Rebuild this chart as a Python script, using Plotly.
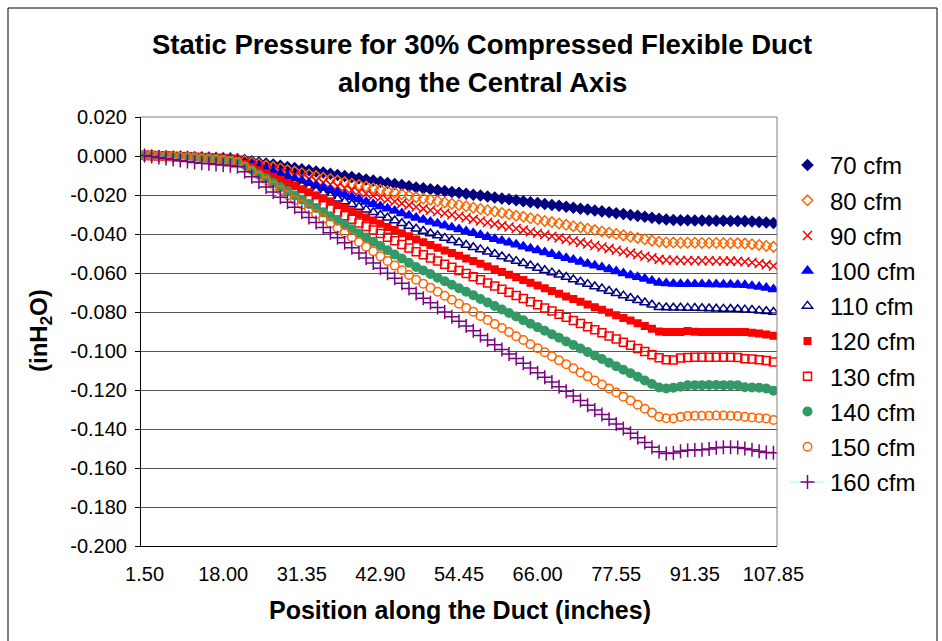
import plotly.graph_objects as go

# Positions along the duct (inches) - category axis
positions = [1.50, 3.00, 4.50, 6.00, 7.50, 9.00, 10.50, 12.00, 13.50, 15.00, 16.50, 18.00, 19.50, 21.00, 22.50, 24.00,
             25.05, 26.10, 27.15, 28.20, 29.25, 30.30, 31.35, 32.40, 33.45, 34.50, 35.55, 36.60, 37.65, 38.70, 39.75,
             40.80, 41.85, 42.90, 43.95, 45.00, 46.05, 47.10, 48.15, 49.20, 50.25, 51.30, 52.35, 53.40, 54.45, 55.50,
             56.55, 57.60, 58.65, 59.70, 60.75, 61.80, 62.85, 63.90, 64.95, 66.00, 67.05, 68.10, 69.15, 70.20, 71.25,
             72.30, 73.35, 74.40, 75.45, 76.50, 77.55, 78.60, 79.65, 80.70, 81.75, 82.80, 83.85,
             85.35, 86.85, 88.35, 89.85, 91.35, 92.85, 94.35, 95.85, 97.35, 98.85, 100.35, 101.85, 103.35, 104.85,
             106.35, 107.85]

x_tick_labels = ["1.50", "18.00", "31.35", "42.90", "54.45", "66.00", "77.55", "91.35", "107.85"]
y_tick_values = [0.02, 0.0, -0.02, -0.04, -0.06, -0.08, -0.10, -0.12, -0.14, -0.16, -0.18, -0.20]
y_tick_labels = ["0.020", "0.000", "-0.020", "-0.040", "-0.060", "-0.080", "-0.100", "-0.120",
                 "-0.140", "-0.160", "-0.180", "-0.200"]

cfm_70 = [0.0002, 0.0001, 0.0000, -0.0001, -0.0002, -0.0003, -0.0004, -0.0005, -0.0006, -0.0008, -0.0009, -0.0010,
          -0.0012, -0.0015, -0.0021, -0.0027, -0.0033, -0.0038, -0.0044, -0.0050, -0.0056, -0.0062, -0.0068, -0.0073,
          -0.0079, -0.0085, -0.0091, -0.0097, -0.0103, -0.0108, -0.0114, -0.0120, -0.0126, -0.0132, -0.0138, -0.0143,
          -0.0149, -0.0155, -0.0161, -0.0166, -0.0170, -0.0175, -0.0180, -0.0185, -0.0189, -0.0194, -0.0199, -0.0203,
          -0.0208, -0.0213, -0.0218, -0.0222, -0.0227, -0.0232, -0.0237, -0.0241, -0.0246, -0.0251, -0.0255, -0.0260,
          -0.0265, -0.0270, -0.0274, -0.0279, -0.0284, -0.0289, -0.0293, -0.0298, -0.0303, -0.0307, -0.0312, -0.0317,
          -0.0322, -0.0326, -0.0328, -0.0330, -0.0330, -0.0331, -0.0331, -0.0332, -0.0332, -0.0332, -0.0333, -0.0333,
          -0.0334, -0.0336, -0.0339, -0.0341, -0.0344]
cfm_80 = [0.0003, 0.0002, 0.0001, 0.0000, -0.0002, -0.0003, -0.0004, -0.0006, -0.0007, -0.0009, -0.0010, -0.0012,
          -0.0015, -0.0018, -0.0026, -0.0033, -0.0041, -0.0049, -0.0057, -0.0064, -0.0072, -0.0080, -0.0088, -0.0095,
          -0.0103, -0.0111, -0.0118, -0.0126, -0.0134, -0.0142, -0.0149, -0.0157, -0.0165, -0.0173, -0.0180, -0.0188,
          -0.0196, -0.0204, -0.0211, -0.0218, -0.0224, -0.0231, -0.0238, -0.0245, -0.0251, -0.0258, -0.0265, -0.0272,
          -0.0278, -0.0285, -0.0292, -0.0299, -0.0306, -0.0312, -0.0319, -0.0326, -0.0333, -0.0339, -0.0346, -0.0353,
          -0.0360, -0.0366, -0.0373, -0.0380, -0.0387, -0.0393, -0.0400, -0.0407, -0.0414, -0.0420, -0.0427, -0.0434,
          -0.0440, -0.0443, -0.0444, -0.0445, -0.0445, -0.0445, -0.0446, -0.0446, -0.0446, -0.0447, -0.0447, -0.0448,
          -0.0449, -0.0452, -0.0456, -0.0461, -0.0466]
cfm_90 = [0.0003, 0.0002, 0.0001, 0.0000, -0.0001, -0.0003, -0.0004, -0.0006, -0.0008, -0.0009, -0.0011, -0.0013,
          -0.0016, -0.0020, -0.0030, -0.0039, -0.0049, -0.0059, -0.0068, -0.0078, -0.0088, -0.0098, -0.0107, -0.0117,
          -0.0127, -0.0136, -0.0146, -0.0156, -0.0165, -0.0175, -0.0185, -0.0194, -0.0204, -0.0214, -0.0223, -0.0233,
          -0.0243, -0.0252, -0.0262, -0.0270, -0.0278, -0.0286, -0.0294, -0.0301, -0.0309, -0.0317, -0.0325, -0.0333,
          -0.0341, -0.0349, -0.0357, -0.0364, -0.0372, -0.0380, -0.0388, -0.0396, -0.0404, -0.0412, -0.0420, -0.0428,
          -0.0435, -0.0443, -0.0451, -0.0459, -0.0467, -0.0475, -0.0483, -0.0491, -0.0498, -0.0506, -0.0514, -0.0522,
          -0.0530, -0.0533, -0.0535, -0.0536, -0.0536, -0.0537, -0.0537, -0.0537, -0.0538, -0.0538, -0.0539, -0.0540,
          -0.0542, -0.0546, -0.0551, -0.0557, -0.0564]
cfm_100 = [0.0003, 0.0002, 0.0001, -0.0001, -0.0002, -0.0003, -0.0005, -0.0006, -0.0008, -0.0009, -0.0011, -0.0013,
           -0.0016, -0.0020, -0.0032, -0.0044, -0.0056, -0.0068, -0.0079, -0.0091, -0.0103, -0.0115, -0.0127, -0.0139,
           -0.0151, -0.0163, -0.0174, -0.0186, -0.0198, -0.0210, -0.0222, -0.0234, -0.0246, -0.0258, -0.0269, -0.0281,
           -0.0293, -0.0305, -0.0317, -0.0327, -0.0337, -0.0346, -0.0356, -0.0366, -0.0376, -0.0386, -0.0395, -0.0405,
           -0.0415, -0.0425, -0.0434, -0.0444, -0.0454, -0.0464, -0.0474, -0.0483, -0.0493, -0.0503, -0.0513, -0.0523,
           -0.0532, -0.0542, -0.0552, -0.0562, -0.0571, -0.0581, -0.0591, -0.0601, -0.0611, -0.0620, -0.0630, -0.0640,
           -0.0650, -0.0653, -0.0655, -0.0656, -0.0656, -0.0657, -0.0657, -0.0658, -0.0658, -0.0659, -0.0659, -0.0660,
           -0.0662, -0.0666, -0.0671, -0.0676, -0.0683]
cfm_110 = [0.0003, 0.0002, 0.0001, -0.0001, -0.0002, -0.0004, -0.0005, -0.0007, -0.0008, -0.0010, -0.0012, -0.0014,
           -0.0018, -0.0022, -0.0036, -0.0050, -0.0064, -0.0078, -0.0092, -0.0106, -0.0120, -0.0134, -0.0148, -0.0162,
           -0.0176, -0.0190, -0.0205, -0.0219, -0.0233, -0.0247, -0.0261, -0.0275, -0.0289, -0.0303, -0.0317, -0.0331,
           -0.0345, -0.0359, -0.0373, -0.0385, -0.0397, -0.0408, -0.0420, -0.0432, -0.0444, -0.0456, -0.0468, -0.0479,
           -0.0491, -0.0503, -0.0515, -0.0527, -0.0539, -0.0550, -0.0562, -0.0574, -0.0586, -0.0598, -0.0609, -0.0621,
           -0.0633, -0.0645, -0.0657, -0.0669, -0.0680, -0.0692, -0.0704, -0.0716, -0.0728, -0.0740, -0.0751, -0.0763,
           -0.0775, -0.0777, -0.0778, -0.0778, -0.0779, -0.0780, -0.0781, -0.0782, -0.0783, -0.0784, -0.0785, -0.0786,
           -0.0788, -0.0790, -0.0793, -0.0796, -0.0800]
cfm_120 = [0.0004, 0.0003, 0.0001, 0.0000, -0.0002, -0.0003, -0.0005, -0.0007, -0.0009, -0.0011, -0.0013, -0.0016,
           -0.0020, -0.0025, -0.0041, -0.0057, -0.0073, -0.0089, -0.0106, -0.0122, -0.0138, -0.0154, -0.0170, -0.0186,
           -0.0202, -0.0218, -0.0235, -0.0251, -0.0267, -0.0283, -0.0299, -0.0315, -0.0331, -0.0347, -0.0364, -0.0380,
           -0.0396, -0.0412, -0.0428, -0.0442, -0.0456, -0.0470, -0.0484, -0.0497, -0.0511, -0.0525, -0.0539, -0.0553,
           -0.0567, -0.0581, -0.0595, -0.0609, -0.0622, -0.0636, -0.0650, -0.0664, -0.0678, -0.0692, -0.0706, -0.0720,
           -0.0733, -0.0747, -0.0761, -0.0775, -0.0789, -0.0803, -0.0817, -0.0831, -0.0844, -0.0858, -0.0872, -0.0886,
           -0.0900, -0.0903, -0.0903, -0.0902, -0.0897, -0.0901, -0.0902, -0.0902, -0.0902, -0.0902, -0.0902, -0.0902,
           -0.0903, -0.0906, -0.0910, -0.0915, -0.0922]
cfm_130 = [0.0004, 0.0003, 0.0001, 0.0000, -0.0002, -0.0004, -0.0006, -0.0008, -0.0010, -0.0012, -0.0015, -0.0018,
           -0.0022, -0.0028, -0.0047, -0.0065, -0.0084, -0.0102, -0.0121, -0.0139, -0.0158, -0.0176, -0.0195, -0.0213,
           -0.0232, -0.0250, -0.0269, -0.0287, -0.0306, -0.0324, -0.0343, -0.0361, -0.0380, -0.0398, -0.0417, -0.0435,
           -0.0454, -0.0472, -0.0491, -0.0507, -0.0523, -0.0539, -0.0555, -0.0571, -0.0587, -0.0603, -0.0619, -0.0635,
           -0.0651, -0.0667, -0.0683, -0.0699, -0.0715, -0.0731, -0.0747, -0.0763, -0.0779, -0.0795, -0.0811, -0.0827,
           -0.0843, -0.0859, -0.0875, -0.0891, -0.0907, -0.0923, -0.0939, -0.0955, -0.0971, -0.0987, -0.1003, -0.1019,
           -0.1035, -0.1045, -0.1046, -0.1036, -0.1033, -0.1032, -0.1032, -0.1032, -0.1032, -0.1032, -0.1032, -0.1033,
           -0.1040, -0.1041, -0.1045, -0.1049, -0.1057]
cfm_140 = [0.0004, 0.0003, 0.0001, -0.0001, -0.0003, -0.0004, -0.0006, -0.0008, -0.0011, -0.0013, -0.0016, -0.0019,
           -0.0024, -0.0030, -0.0052, -0.0073, -0.0095, -0.0116, -0.0138, -0.0159, -0.0181, -0.0203, -0.0224, -0.0246,
           -0.0267, -0.0289, -0.0310, -0.0332, -0.0354, -0.0375, -0.0397, -0.0418, -0.0440, -0.0461, -0.0483, -0.0505,
           -0.0526, -0.0548, -0.0569, -0.0587, -0.0605, -0.0624, -0.0642, -0.0660, -0.0678, -0.0696, -0.0714, -0.0733,
           -0.0751, -0.0769, -0.0787, -0.0805, -0.0823, -0.0842, -0.0860, -0.0878, -0.0896, -0.0914, -0.0932, -0.0951,
           -0.0969, -0.0987, -0.1005, -0.1023, -0.1041, -0.1060, -0.1078, -0.1096, -0.1114, -0.1132, -0.1151, -0.1169,
           -0.1187, -0.1192, -0.1188, -0.1183, -0.1176, -0.1175, -0.1175, -0.1174, -0.1174, -0.1175, -0.1175, -0.1176,
           -0.1186, -0.1187, -0.1188, -0.1192, -0.1204]
cfm_150 = [0.0004, 0.0002, 0.0000, -0.0002, -0.0004, -0.0006, -0.0008, -0.0010, -0.0013, -0.0015, -0.0018, -0.0021,
           -0.0026, -0.0032, -0.0056, -0.0080, -0.0104, -0.0128, -0.0152, -0.0176, -0.0201, -0.0225, -0.0249, -0.0273,
           -0.0297, -0.0321, -0.0345, -0.0369, -0.0393, -0.0417, -0.0441, -0.0465, -0.0489, -0.0514, -0.0538, -0.0562,
           -0.0586, -0.0610, -0.0634, -0.0655, -0.0675, -0.0696, -0.0717, -0.0737, -0.0758, -0.0779, -0.0799, -0.0820,
           -0.0841, -0.0862, -0.0882, -0.0903, -0.0924, -0.0944, -0.0965, -0.0986, -0.1006, -0.1027, -0.1048, -0.1068,
           -0.1089, -0.1110, -0.1130, -0.1151, -0.1172, -0.1192, -0.1213, -0.1234, -0.1254, -0.1275, -0.1296, -0.1316,
           -0.1337, -0.1345, -0.1346, -0.1338, -0.1333, -0.1332, -0.1332, -0.1332, -0.1331, -0.1331, -0.1332, -0.1333,
           -0.1337, -0.1341, -0.1343, -0.1346, -0.1354]
cfm_160 = [0.0002, -0.0003, -0.0008, -0.0013, -0.0018, -0.0023, -0.0028, -0.0033, -0.0037, -0.0040, -0.0043, -0.0046,
           -0.0050, -0.0055, -0.0081, -0.0107, -0.0133, -0.0159, -0.0185, -0.0211, -0.0237, -0.0263, -0.0289, -0.0315,
           -0.0341, -0.0367, -0.0393, -0.0419, -0.0445, -0.0471, -0.0497, -0.0523, -0.0549, -0.0575, -0.0601, -0.0627,
           -0.0653, -0.0679, -0.0705, -0.0729, -0.0753, -0.0777, -0.0800, -0.0824, -0.0848, -0.0872, -0.0896, -0.0920,
           -0.0944, -0.0968, -0.0992, -0.1016, -0.1039, -0.1063, -0.1087, -0.1111, -0.1135, -0.1159, -0.1183, -0.1207,
           -0.1231, -0.1254, -0.1278, -0.1302, -0.1326, -0.1350, -0.1374, -0.1398, -0.1422, -0.1445, -0.1469, -0.1493,
           -0.1517, -0.1525, -0.1523, -0.1514, -0.1509, -0.1508, -0.1507, -0.1503, -0.1496, -0.1494, -0.1494, -0.1495,
           -0.1500, -0.1506, -0.1514, -0.1520, -0.1522]

series_names = ["70 cfm", "80 cfm", "90 cfm", "100 cfm", "110 cfm", "120 cfm", "130 cfm", "140 cfm", "150 cfm", "160 cfm"]
series_values = [cfm_70, cfm_80, cfm_90, cfm_100, cfm_110, cfm_120, cfm_130, cfm_140, cfm_150, cfm_160]

styles = [
    dict(symbol="diamond", color="#000080", size=8),
    dict(symbol="diamond-open", color="#FF6600", size=8),
    dict(symbol="x-thin-open", color="#FF0000", size=9),
    dict(symbol="triangle-up", color="#0000FF", size=9),
    dict(symbol="triangle-up-open", color="#000080", size=9),
    dict(symbol="square", color="#FF0000", size=6.5),
    dict(symbol="square-open", color="#FF0000", size=8),
    dict(symbol="circle", color="#339966", size=8.5),
    dict(symbol="circle-open", color="#FF6600", size=8.5),
    dict(symbol="cross-thin-open", color="#800080", size=10),
]

FONT = "Liberation Sans, Arial, Helvetica, sans-serif"
x_labels = [f"{p:.2f}" for p in positions]

fig = go.Figure()
for name, vals, st in zip(series_names, series_values, styles):
    is_last = name == "160 cfm"
    fig.add_trace(go.Scatter(
        x=x_labels, y=vals, name=name, legendgroup=name,
        mode="lines+markers" if is_last else "markers",
        line=dict(color="#CCFFFF", width=2) if is_last else None,
        marker=dict(symbol=st["symbol"], size=st["size"], color=st["color"],
                    line=dict(color=st["color"], width=1.5)),
    ))

W, H = 942, 641
L, R, T, B = 141, 777, 117, 546
pw, ph = R - L, B - T


def px(x):
    return (x - L) / pw


def py(y):
    return (B - y) / ph


fig.update_layout(
    width=W, height=H,
    margin=dict(l=L, r=W - R, t=T, b=H - B, pad=0),
    paper_bgcolor="white", plot_bgcolor="white",
    font=dict(family=FONT, color="black", size=20),
    showlegend=True,
    legend=dict(x=px(785), y=py(143), xanchor="left", yanchor="top",
                font=dict(size=24, family=FONT), tracegroupgap=1, itemwidth=35,
                bgcolor="rgba(0,0,0,0)", borderwidth=0),
    xaxis=dict(type="category", range=[-0.5, len(positions) - 0.5],
               tickmode="array", tickvals=x_tick_labels, ticktext=x_tick_labels,
               showgrid=False, showline=True, linecolor="black", linewidth=1,
               ticks="", tickfont=dict(size=20, family=FONT), zeroline=False,
               ticklabelstandoff=10),
    yaxis=dict(range=[-0.2, 0.02], tickmode="array", tickvals=y_tick_values, ticktext=y_tick_labels,
               showgrid=True, gridcolor="#555555", gridwidth=1,
               showline=True, linecolor="black", linewidth=1,
               ticks="outside", ticklen=5, tickcolor="black",
               tickfont=dict(size=20, family=FONT), zeroline=False,
               ticklabelstandoff=4),
    annotations=[
        dict(text="<b>Static Pressure for 30% Compressed Flexible Duct</b>", x=px(482), y=py(45),
             xref="paper", yref="paper", showarrow=False, font=dict(size=27.5, family=FONT),
             xanchor="center", yanchor="middle"),
        dict(text="<b>along the Central Axis</b>", x=px(482), y=py(82),
             xref="paper", yref="paper", showarrow=False, font=dict(size=27.5, family=FONT),
             xanchor="center", yanchor="middle"),
        dict(text="<b>Position along the Duct (inches)</b>", x=px(460), y=py(610),
             xref="paper", yref="paper", showarrow=False, font=dict(size=25, family=FONT),
             xanchor="center", yanchor="middle"),
        dict(text="<b>(inH<sub>2</sub>O)</b>", x=px(40), y=py(331), textangle=-90,
             xref="paper", yref="paper", showarrow=False, font=dict(size=24, family=FONT),
             xanchor="center", yanchor="middle"),
    ],
    shapes=[
        # plot-area border (right and top, gray)
        dict(type="line", xref="paper", yref="paper", x0=1, x1=1, y0=0, y1=1,
             line=dict(color="#808080", width=1)),
        dict(type="line", xref="paper", yref="paper", x0=0, x1=1, y0=1, y1=1,
             line=dict(color="#808080", width=1)),
        # chart-area border
        dict(type="rect", xref="paper", yref="paper", x0=px(8), x1=px(937), y0=py(652), y1=py(8),
             line=dict(color="black", width=1), fillcolor="rgba(0,0,0,0)", layer="below"),
    ],
)

fig.write_html("out.html", config={"displayModeBar": False},
               post_script="document.body.style.margin='0';document.body.style.overflow='hidden';")
